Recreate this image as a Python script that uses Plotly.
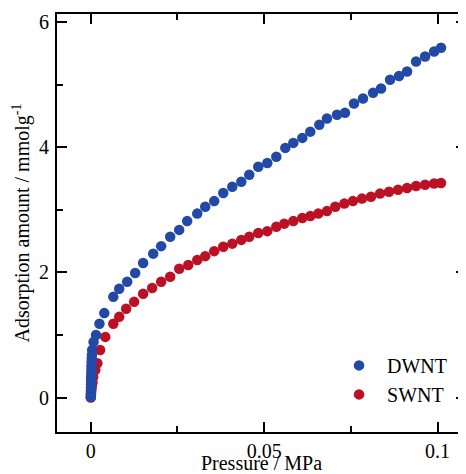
import plotly.graph_objects as go

# DWNT isotherm (pressure in MPa, amount in mmol/g)
dwnt_p = [0.0, 0.00002, 0.00004, 0.00006, 0.00008, 0.0001, 0.00012, 0.00015, 0.00018,
          0.0002, 0.00024, 0.00028, 0.00032, 0.0004, 0.0008, 0.0015, 0.0025, 0.0039,
          0.0065, 0.0082, 0.0105, 0.0128, 0.0151, 0.018, 0.0203, 0.0229, 0.0255,
          0.0278, 0.0307, 0.033, 0.0356, 0.0382, 0.0408, 0.0434, 0.0457, 0.0483,
          0.0509, 0.0535, 0.0561, 0.0584, 0.061, 0.0633, 0.0659, 0.0681, 0.071,
          0.0733, 0.0759, 0.0785, 0.0814, 0.0837, 0.0863, 0.0889, 0.0912, 0.0938,
          0.0964, 0.099, 0.101]
dwnt_q = [0.01, 0.06, 0.11, 0.16, 0.21, 0.27, 0.32, 0.38, 0.44,
          0.5, 0.56, 0.62, 0.68, 0.76, 0.89, 1.0, 1.18, 1.35,
          1.61, 1.74, 1.85, 1.99, 2.15, 2.30, 2.42, 2.57, 2.68,
          2.82, 2.94, 3.05, 3.14, 3.27, 3.37, 3.45, 3.56, 3.69,
          3.75, 3.85, 3.99, 4.07, 4.15, 4.25, 4.36, 4.46, 4.52,
          4.55, 4.70, 4.78, 4.87, 4.94, 5.08, 5.14, 5.21, 5.37,
          5.45, 5.53, 5.59]

# SWNT isotherm
swnt_p = [0.0, 0.00005, 0.0001, 0.0002, 0.0003, 0.0005, 0.0007, 0.0013, 0.0019,
          0.0027, 0.0042, 0.0065, 0.0082, 0.0102, 0.0125, 0.0151, 0.0177, 0.0203,
          0.0229, 0.0255, 0.0281, 0.0307, 0.033, 0.0356, 0.0382, 0.0408, 0.0434,
          0.0457, 0.0483, 0.0509, 0.0535, 0.0558, 0.0584, 0.061, 0.0633, 0.0656,
          0.0681, 0.0705, 0.0731, 0.0756, 0.0782, 0.0808, 0.0834, 0.086, 0.0886,
          0.0912, 0.0938, 0.0964, 0.099, 0.101]
swnt_q = [0.0, 0.05, 0.09, 0.14, 0.19, 0.24, 0.33, 0.44, 0.55,
          0.76, 0.97, 1.18, 1.29, 1.42, 1.53, 1.66, 1.75, 1.85,
          1.93, 2.06, 2.12, 2.20, 2.26, 2.34, 2.41, 2.46, 2.52,
          2.57, 2.63, 2.66, 2.73, 2.78, 2.82, 2.87, 2.90, 2.94,
          2.98, 3.05, 3.10, 3.14, 3.18, 3.21, 3.26, 3.29, 3.32,
          3.35, 3.38, 3.40, 3.42, 3.43]

FONT = "Liberation Serif"
BLUE = "#2249a6"
RED = "#bc1125"

fig = go.Figure()

fig.add_trace(go.Scatter(
    x=swnt_p, y=swnt_q, name="SWNT", mode="markers",
    marker=dict(color=RED, size=10.5), legendrank=2
))
fig.add_trace(go.Scatter(
    x=dwnt_p, y=dwnt_q, name="DWNT", mode="markers",
    marker=dict(color=BLUE, size=10.5), legendrank=1
))

axis_common = dict(
    showline=True, linecolor="black", linewidth=2,
    ticks="inside", ticklen=10, tickwidth=2, tickcolor="black",
    mirror="ticks", showgrid=False, zeroline=False, automargin=False,
    tickfont=dict(family=FONT, size=20, color="black"),
)

# page body adds an 8px margin, so the figure is sized to what stays visible
fig.update_layout(
    width=458, height=466,
    margin=dict(l=49, r=0, t=6, b=42),
    paper_bgcolor="white", plot_bgcolor="white",
    font=dict(family=FONT, size=20, color="black"),
    xaxis=dict(
        range=[-0.00974, 0.1082], tick0=0, dtick=0.05,
        minor=dict(dtick=0.025, ticks="inside", ticklen=6, tickwidth=2, tickcolor="black"),
        title=dict(text="Pressure / MPa", standoff=2, font=dict(family=FONT, size=20)),
        ticklabelstandoff=0,
        **axis_common
    ),
    yaxis=dict(
        range=[-0.55, 6.13], tick0=0, dtick=2,
        minor=dict(dtick=1, ticks="inside", ticklen=6, tickwidth=2, tickcolor="black"),
        title=dict(text="Adsorption amount / mmolg<sup>-1</sup>", standoff=4,
                   font=dict(family=FONT, size=20)),
        ticklabelstandoff=2,
        **axis_common
    ),
    legend=dict(
        x=0.67, y=0.206, xanchor="left", yanchor="top",
        itemwidth=46, bgcolor="rgba(0,0,0,0)",
        font=dict(family=FONT, size=20, color="black"),
    ),
)

fig.write_html("out.html")
